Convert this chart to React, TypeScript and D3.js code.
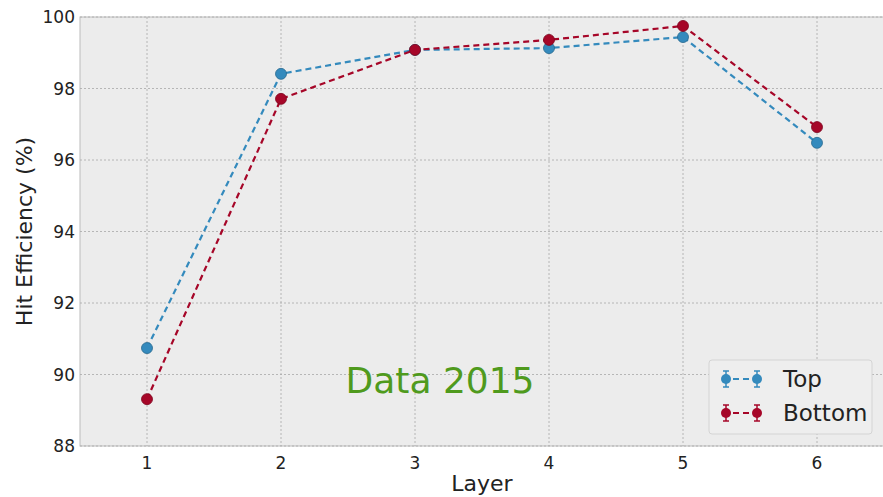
import React from "react";
import * as d3 from "d3";

const layers = [1, 2, 3, 4, 5, 6];
const topEff = [90.74, 98.41, 99.08, 99.13, 99.44, 96.48];
const bottomEff = [89.31, 97.71, 99.08, 99.36, 99.75, 96.92];
const yTicks = [88, 90, 92, 94, 96, 98, 100];
const seriesNames = ["Top", "Bottom"];
const seriesColors = ["#348ABD", "#A60628"];

const W = 883;
const H = 497;
const M = { left: 80, right: -1, top: 17, bottom: 51 };

export default function App() {
  const x = d3.scaleLinear().domain([0.5, 6.5]).range([M.left, W - M.right]);
  const y = d3.scaleLinear().domain([88, 100]).range([H - M.bottom, M.top]);
  const font = "DejaVu Sans, sans-serif";
  const line = d3
    .line<number>()
    .x((_, i) => x(layers[i]))
    .y((d) => y(d));
  const series = [topEff, bottomEff];

  return (
    <svg width={W} height={H} style={{ position: "absolute", left: 0, top: 0 }}>
      <rect x={M.left} y={M.top} width={x(6.5) - M.left} height={y(88) - M.top} fill="#ECECEC" stroke="#BCBCBC" strokeWidth={1} />
      {layers.map((l) => (
        <line key={"gx" + l} x1={x(l)} x2={x(l)} y1={M.top} y2={y(88)} stroke="#A8A8A8" strokeWidth={0.8} strokeDasharray="2,2" />
      ))}
      {yTicks.map((t) => (
        <line key={"gy" + t} x1={M.left} x2={x(6.5)} y1={y(t)} y2={y(t)} stroke="#A8A8A8" strokeWidth={0.8} strokeDasharray="2,2" />
      ))}
      {yTicks.map((t) => (
        <text key={"ty" + t} x={M.left - 5} y={y(t)} dy="0.36em" textAnchor="end" fontFamily={font} fontSize={17} fill="#222">
          {t}
        </text>
      ))}
      {layers.map((l) => (
        <text key={"tx" + l} x={x(l)} y={y(88) + 23} textAnchor="middle" fontFamily={font} fontSize={17} fill="#222">
          {l}
        </text>
      ))}
      <text x={x(3.5)} y={491} textAnchor="middle" fontFamily={font} fontSize={22} fill="#222">
        Layer
      </text>
      <text transform={`translate(32,${(M.top + y(88)) / 2}) rotate(-90)`} textAnchor="middle" fontFamily={font} fontSize={22} fill="#222">
        Hit Efficiency (%)
      </text>
      {series.map((s, si) => (
        <g key={"s" + si}>
          <path d={line(s) || ""} fill="none" stroke={seriesColors[si]} strokeWidth={2.2} strokeDasharray="6,4" />
          {s.map((v, i) => (
            <circle key={i} cx={x(layers[i])} cy={y(v)} r={5.5} fill={seriesColors[si]} stroke={d3.color(seriesColors[si])!.darker(0.8).toString()} strokeWidth={0.8} />
          ))}
        </g>
      ))}
      <text x={440} y={393} textAnchor="middle" fontFamily={font} fontSize={36} fill="#4F9A1D">
        Data 2015
      </text>
      <g transform="translate(709,360)">
        <rect x={0} y={0} width={163} height={74} rx={3} fill="#EEEEEE" stroke="#D4D4D4" strokeWidth={1} />
        {seriesNames.map((n, i) => {
          const cy = 19 + i * 34;
          const c = seriesColors[i];
          return (
            <g key={n}>
              <line x1={17} x2={48} y1={cy} y2={cy} stroke={c} strokeWidth={2} strokeDasharray="6,4" strokeDashoffset={-7} />
              {[17, 48].map((mx) => (
                <g key={mx}>
                  <line x1={mx} x2={mx} y1={cy - 8} y2={cy + 8} stroke={c} strokeWidth={1.5} />
                  <line x1={mx - 3} x2={mx + 3} y1={cy - 8} y2={cy - 8} stroke={c} strokeWidth={1.5} />
                  <line x1={mx - 3} x2={mx + 3} y1={cy + 8} y2={cy + 8} stroke={c} strokeWidth={1.5} />
                  <circle cx={mx} cy={cy} r={5} fill={c} />
                </g>
              ))}
              <text x={74} y={cy} dy="0.36em" fontFamily={font} fontSize={23} fill="#222">
                {n}
              </text>
            </g>
          );
        })}
      </g>
    </svg>
  );
}
